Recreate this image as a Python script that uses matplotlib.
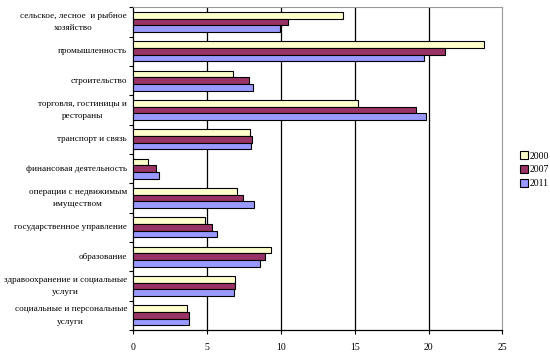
import matplotlib
matplotlib.use("Agg")
import matplotlib.pyplot as plt
import numpy as np

categories = [
    "сельское, лесное  и рыбное\nхозяйство",
    "промышленность",
    "строительство",
    "торговля, гостиницы и\nрестораны",
    "транспорт и связь",
    "финансовая деятельность",
    "операции с недвижимым\nимуществом",
    "государственное управление",
    "образование",
    "здравоохранение и социальные\nуслуги",
    "социальные и персональные\nуслуги",
]
years = ["2000", "2007", "2011"]
v2000 = [14.2, 23.76, 6.72, 15.21, 7.88, 1.02, 7.02, 4.84, 9.32, 6.88, 3.62]
v2007 = [10.45, 21.11, 7.81, 19.14, 8.04, 1.55, 7.41, 5.34, 8.92, 6.88, 3.80]
v2011 = [9.91, 19.71, 8.10, 19.82, 7.97, 1.77, 8.16, 5.66, 8.60, 6.84, 3.80]
colors = ["#FFFFCC", "#993366", "#9999FF"]

plt.rcParams['font.family'] = ['Liberation Serif', 'DejaVu Serif']

fig = plt.figure(figsize=(5.5, 3.57), dpi=100)
ax = fig.add_axes([0.2424, 0.0756, 0.6709, 0.904])

n = len(categories)
y = np.arange(n)
h = 0.225
series = [v2000, v2007, v2011]
for i, (vals, c, yr) in enumerate(zip(series, colors, years)):
    ax.barh(y + (i - 1) * h, vals, height=h, color=c, edgecolor="black",
            linewidth=0.8, label=yr, zorder=3)

ax.set_ylim(n - 0.5, -0.5)
ax.set_xlim(0, 25)
ax.set_xticks([0, 5, 10, 15, 20, 25])
ax.tick_params(axis='x', labelsize=7, length=3, width=0.8, direction='out', pad=6)
ax.set_yticks(np.arange(n + 1) - 0.5, minor=False)
ax.set_yticklabels([])
ax.tick_params(axis='y', length=3, width=0.8, direction='out')
for yi, lab in zip(y, categories):
    ax.text(-0.017, yi, lab, transform=ax.get_yaxis_transform(), ha='right', va='center',
            multialignment='center', fontsize=6.6, linespacing=1.75)

for xv in [5, 10, 15, 20]:
    ax.axvline(xv, color='black', linewidth=0.9, zorder=1)

for s in ['top', 'right']:
    ax.spines[s].set_color('#999999')
    ax.spines[s].set_linewidth(0.8)
for s in ['left', 'bottom']:
    ax.spines[s].set_color('black')
    ax.spines[s].set_linewidth(0.9)

leg = fig.legend(loc='center left', bbox_to_anchor=(0.937, 0.524), frameon=False,
                 fontsize=7, handlelength=0.8, handleheight=0.8, handletextpad=0.2,
                 labelspacing=0.5, borderpad=0)
for p in leg.get_patches():
    p.set_linewidth(0.8)

fig.savefig("out.png", dpi=100)
